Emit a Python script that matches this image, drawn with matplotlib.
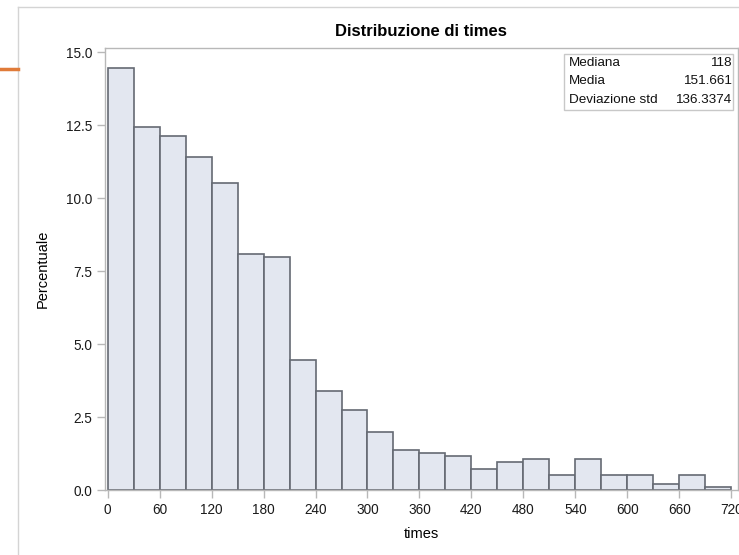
import numpy as np
import matplotlib
matplotlib.use('Agg')
import matplotlib.pyplot as plt
from matplotlib.lines import Line2D

plt.rcParams['font.family'] = ['Liberation Sans', 'DejaVu Sans']

# Histogram data (bin width 30, percent per bin)
bin_edges = list(range(0, 750, 30))
percents = [14.48, 12.46, 12.14, 11.40, 10.54, 8.08, 7.98, 4.46,
            3.40, 2.75, 2.01, 1.38, 1.28, 1.16, 0.73, 0.96,
            1.06, 0.52, 1.06, 0.52, 0.52, 0.21, 0.52, 0.10]
x_ticks = list(range(0, 780, 60))
y_ticks = [0.0, 2.5, 5.0, 7.5, 10.0, 12.5, 15.0]
stat_names = ['Mediana', 'Media', 'Deviazione std']
stat_values = ['118', '151.661', '136.3374']

W, H = 739, 555
fig = plt.figure(figsize=(W / 100, H / 100), dpi=100)

# Outer panel border and orange accent
fig.add_artist(Line2D([18 / W, 18 / W], [0, 1 - 6.7 / H], color='#d4d4d4', lw=1))
fig.add_artist(Line2D([18 / W, 1], [1 - 6.7 / H, 1 - 6.7 / H], color='#d4d4d4', lw=1))
fig.add_artist(Line2D([0, 18 / W], [1 - 69 / H, 1 - 69 / H], color='#e07b39', lw=2.5))

left, right, top, bottom = 105, 737.7, 48.3, 490.3
ax = fig.add_axes([left / W, 1 - bottom / H, (right - left) / W, (bottom - top) / H])

widths = np.diff(bin_edges)
ax.bar(bin_edges[:-1], percents, width=widths, align='edge',
       color='#e3e7f0', edgecolor='#656a73', linewidth=1.2, zorder=2)

ax.set_xlim(-3.1, 727.5)
ax.set_ylim(0, 15.14)
ax.set_xticks(x_ticks)
ax.set_xticklabels([str(t) for t in x_ticks])
ax.set_yticks(y_ticks)
ax.set_yticklabels([f'{t:.1f}' for t in y_ticks])

for s in ax.spines.values():
    s.set_color('#b8b8b8')
    s.set_linewidth(1)
ax.tick_params(axis='both', colors='#b8b8b8', labelcolor='#1a1a1a',
               labelsize=9.8, length=6, width=1, pad=3)

ax.set_title('Distribuzione di times', fontsize=12, fontweight='bold', pad=9)
ax.set_xlabel('times', fontsize=10.5, labelpad=7)
ax.set_ylabel('Percentuale', fontsize=10.5, labelpad=12)

# Stats inset box
bx0, bx1, by0, by1 = 564.3, 733.3, 54, 110
fig.add_artist(plt.Rectangle((bx0 / W, 1 - by1 / H), (bx1 - bx0) / W, (by1 - by0) / H,
                             fill=True, facecolor='white', edgecolor='#c8c8c8', lw=1))
for i, (name, val) in enumerate(zip(stat_names, stat_values)):
    yy = 1 - (63 + i * 18.3) / H
    fig.text(569.3 / W, yy, name, fontsize=9.7, va='center', ha='left', color='#111111')
    fig.text(731.5 / W, yy, val, fontsize=9.7, va='center', ha='right', color='#111111')

plt.savefig('out.png', dpi=100)
